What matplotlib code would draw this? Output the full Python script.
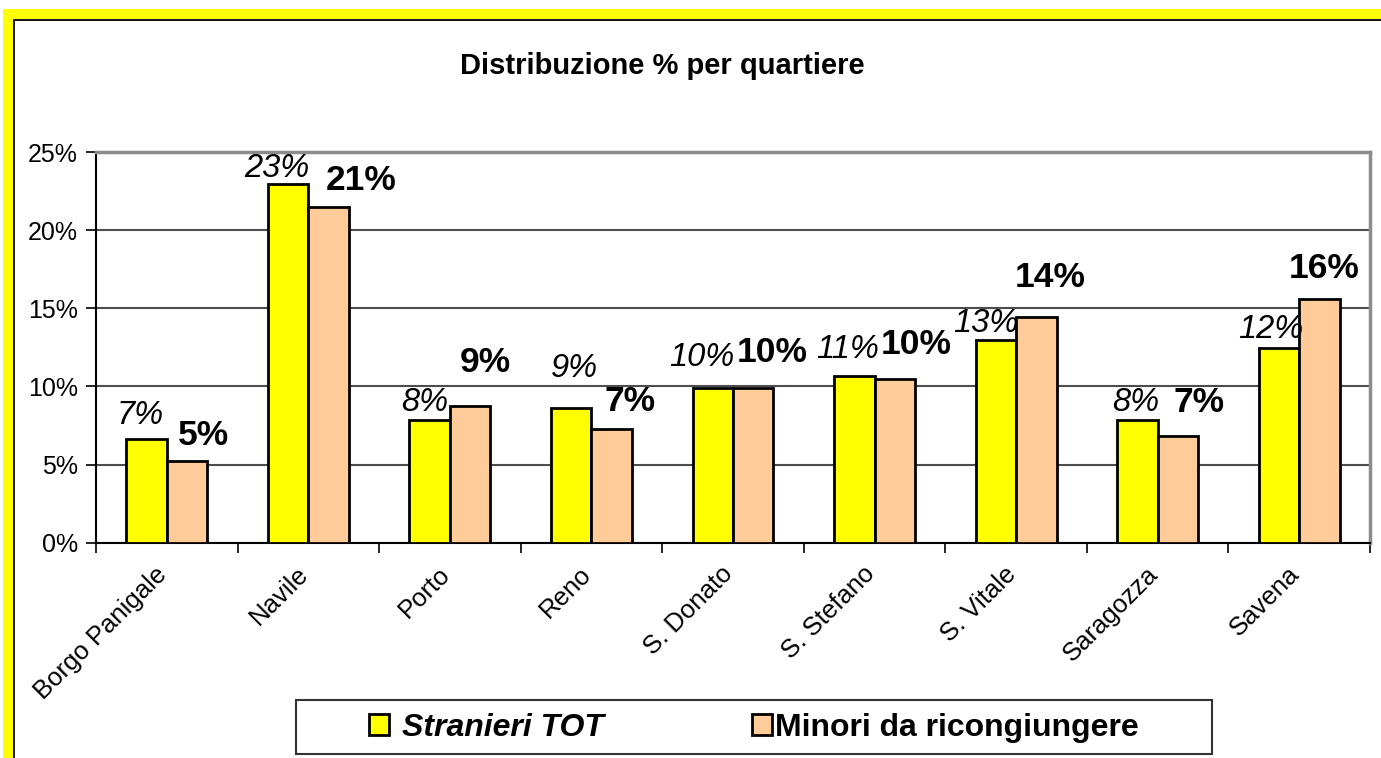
import matplotlib
matplotlib.use("Agg")
import matplotlib.pyplot as plt
from matplotlib.patches import Rectangle
from matplotlib.ticker import FuncFormatter, FixedLocator
from matplotlib.transforms import ScaledTranslation
import numpy as np

plt.rcParams['font.family'] = ['Liberation Sans', 'DejaVu Sans']

# Data
quartieri = ["Borgo Panigale", "Navile", "Porto", "Reno", "S. Donato",
             "S. Stefano", "S. Vitale", "Saragozza", "Savena"]
stranieri_tot = [0.0663, 0.2296, 0.0785, 0.0862, 0.0990, 0.1070, 0.1298, 0.0787, 0.1247]
minori_ricong = [0.0522, 0.2149, 0.0873, 0.0728, 0.0988, 0.1050, 0.1445, 0.0683, 0.1560]
series_names = ["Stranieri TOT", "Minori da ricongiungere"]
title = "Distribuzione % per quartiere"

# Label placement (offsets in pixels from the top-centre of each bar)
off_tot = [(-6, 24), (-11, 16), (-5, 18), (3, 40), (-11, 31), (-7, 26), (-10, 17), (-2, 17), (-8, 18)]
off_min = [(16, 26), (33, 27), (15, 44), (18, 27), (19, 36), (21, 34), (14, 40), (21, 33), (5, 31)]

W, H = 1381, 758
fig = plt.figure(figsize=(W / 100, H / 100), dpi=100)
fig.patch.set_facecolor("white")


def px_rect(x0, y0, x1, y1, color=None, **kw):
    r = Rectangle((x0 / W, 1 - y1 / H), (x1 - x0) / W, (y1 - y0) / H,
                  transform=fig.transFigure, **kw)
    if color is not None:
        r.set_facecolor(color)
    fig.patches.append(r)
    return r


# Yellow frame with dark inner edge (top and left)
px_rect(3, 9, W, 19, "#FFFF00", lw=0, zorder=0)
px_rect(3, 9, 13, H, "#FFFF00", lw=0, zorder=0)
px_rect(13, 19, W, 21, "#1a1a1a", lw=0, zorder=0)
px_rect(13, 19, 15, H, "#1a1a1a", lw=0, zorder=0)

ax = fig.add_axes([96 / W, 1 - 542.5 / H, (1370 - 96) / W, (542.5 - 152.5) / H])

x = np.arange(len(quartieri))
bw = 0.286
b1 = ax.bar(x - bw / 2, stranieri_tot, bw, color="#FFFF00", edgecolor="black",
            linewidth=2, zorder=3, label=series_names[0])
b2 = ax.bar(x + bw / 2, minori_ricong, bw, color="#FFCC99", edgecolor="black",
            linewidth=2, zorder=3, label=series_names[1])

for i, v in enumerate(stranieri_tot):
    ax.annotate(f"{v:.0%}", xy=(x[i] - bw / 2, v), xytext=off_tot[i],
                textcoords="offset pixels", ha="center", va="center",
                fontsize=23.5, style="italic", color="black")
for i, v in enumerate(minori_ricong):
    ax.annotate(f"{v:.0%}", xy=(x[i] + bw / 2, v), xytext=off_min[i],
                textcoords="offset pixels", ha="center", va="center",
                fontsize=25.5, fontweight="bold", color="black")

ax.set_xlim(-0.5, len(quartieri) - 0.5)
ax.set_ylim(0, 0.25)
ax.set_yticks(np.arange(0, 0.2501, 0.05))
ax.yaxis.set_major_formatter(FuncFormatter(lambda v, _: f"{v:.0%}"))
ax.tick_params(axis="y", labelsize=18, length=7, width=1.2, color="black", pad=6)

ax.set_xticks(x)
ax.set_xticklabels(quartieri, rotation=45, ha="right", va="top",
                   rotation_mode="anchor", fontsize=18.5)
ax.tick_params(axis="x", which="major", length=0, pad=14)
shift = ScaledTranslation(-12 / 100, 0, fig.dpi_scale_trans)
for lab in ax.get_xticklabels():
    lab.set_transform(lab.get_transform() + shift)
ax.xaxis.set_minor_locator(FixedLocator(np.arange(-0.5, len(quartieri), 1.0)))
ax.tick_params(axis="x", which="minor", length=7, width=1.2, color="black")

ax.yaxis.grid(True, color="#4d4d4d", linewidth=1.5, zorder=0)
ax.set_axisbelow(True)

ax.spines["left"].set_color("black")
ax.spines["left"].set_linewidth(1.5)
ax.spines["bottom"].set_color("black")
ax.spines["bottom"].set_linewidth(1.5)
ax.spines["top"].set_color("#8c8c8c")
ax.spines["top"].set_linewidth(2.5)
ax.spines["right"].set_color("#8c8c8c")
ax.spines["right"].set_linewidth(2.5)

fig.text(662 / W, 1 - 66 / H, title, ha="center", va="center",
         fontsize=21, fontweight="bold")

# Legend: a box with one entry per series
px_rect(296, 700, 1212, 754, None, facecolor="white", edgecolor="#333333", lw=1.5, zorder=1)
leg_x = [369, 752]
leg_pad = [0.4, 0.1]
for k, (h, name) in enumerate(zip([b1, b2], series_names)):
    lg = fig.legend(handles=[h], labels=[name], loc="center left",
                    bbox_to_anchor=(leg_x[k] / W, 1 - 728 / H), frameon=False,
                    fontsize=23, handlelength=0.63, handleheight=0.63,
                    handletextpad=leg_pad[k], borderpad=0, borderaxespad=0)
    txt = lg.get_texts()[0]
    txt.set_fontweight("bold")
    if k == 0:
        txt.set_style("italic")
    lg.set_zorder(2)

fig.savefig("out.png", dpi=100)
